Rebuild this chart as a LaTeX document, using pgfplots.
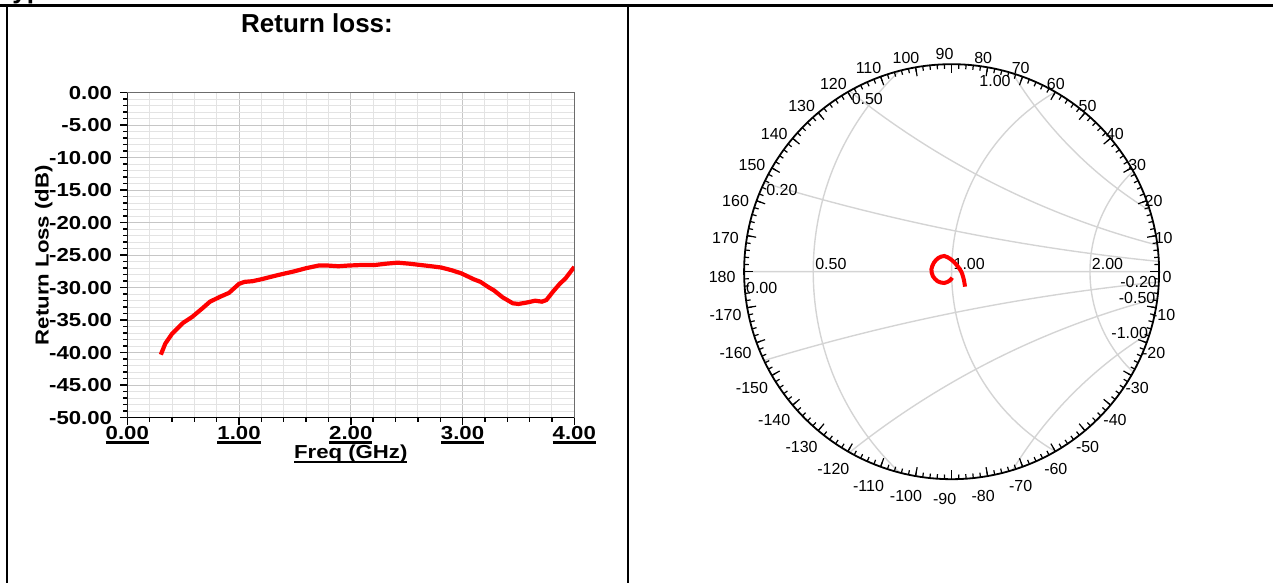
\documentclass[border=0pt]{standalone}
\usepackage{fontspec}
\setmainfont{Liberation Sans}
\newfontfamily\widesans{Liberation Sans}[FakeStretch=1.18]
\usepackage{pgfplots}
\pgfplotsset{compat=1.18}
\usetikzlibrary{calc}

% thick underline as in the original tick labels
\newcommand{\ul}[1]{\leavevmode\setbox0=\hbox{#1}\rlap{\rule[-2.3bp]{\wd0}{1.2bp}}\box0}
\newcommand{\lblfont}{\widesans\bfseries\fontsize{9.4bp}{11bp}\selectfont}
\newcommand{\smfont}{\fontsize{8bp}{9.6bp}\selectfont}

\begin{document}
\begin{tikzpicture}
\useasboundingbox (0,0) rectangle (636.5bp,291.5bp);

% table frame
\draw[line width=1.1bp] (0,288.75bp) -- (636.5bp,288.75bp);
\draw[line width=1.1bp] (3.35bp,0) -- (3.35bp,289.3bp);
\draw[line width=1.1bp] (313.85bp,0) -- (313.85bp,289.3bp);
\node[anchor=base west, inner sep=0, font=\bfseries\fontsize{13bp}{15bp}\selectfont] at (6bp,292.3bp) {yp};

% left panel: return loss
\node[font=\bfseries\fontsize{13bp}{15bp}\selectfont] at (158.5bp,280bp) {Return loss:};

\begin{axis}[
  at={(63.65bp,82.65bp)}, anchor=south west,
  width=223.5bp, height=162.5bp, scale only axis,
  xmin=0, xmax=4, ymin=-50, ymax=0,
  xtick={0,1,2,3,4},
  xticklabels={\ul{0.00},\ul{1.00},\ul{2.00},\ul{3.00},\ul{4.00}},
  ytick={-50,-45,-40,-35,-30,-25,-20,-15,-10,-5,0},
  yticklabels={-50.00,-45.00,-40.00,-35.00,-30.00,-25.00,-20.00,-15.00,-10.00,-5.00,0.00},
  minor x tick num=4, minor y tick num=4,
  grid=both,
  major grid style={gray!45, line width=0.5bp},
  minor grid style={gray!22, line width=0.5bp},
  axis line style={gray!85!black, line width=0.6bp},
  tick align=outside, xtick pos=left, ytick pos=left,
  major tick length=3.6bp, minor tick length=2bp,
  tick style={black, line width=0.7bp},
  tick label style={font=\lblfont},
  xticklabel style={yshift=3bp},
  yticklabel style={xshift=-0.5bp},
  xlabel={\ul{Freq (GHz)}},
  xlabel style={at={(axis description cs:0.5,0)}, anchor=north, inner sep=0pt, yshift=-13.5bp, font=\lblfont},
  ylabel={Return Loss (dB)},
  ylabel style={at={(axis description cs:-0.1870,0.5)}, anchor=center, font=\lblfont},
]
\addplot[red, line width=2.1bp] coordinates {
  (0.30,-40.3) (0.34,-38.6) (0.40,-37.1) (0.50,-35.4) (0.58,-34.5)
  (0.67,-33.2) (0.74,-32.15) (0.83,-31.4) (0.91,-30.8) (1.00,-29.4)
  (1.05,-29.1) (1.12,-29.0) (1.20,-28.7) (1.35,-28.05) (1.49,-27.5)
  (1.60,-27.0) (1.71,-26.6) (1.80,-26.6) (1.89,-26.7) (1.97,-26.6)
  (2.11,-26.5) (2.22,-26.5) (2.32,-26.3) (2.42,-26.15) (2.52,-26.3)
  (2.62,-26.5) (2.72,-26.7) (2.81,-26.9) (2.90,-27.3) (2.99,-27.8)
  (3.10,-28.7) (3.16,-29.1) (3.23,-29.9) (3.28,-30.4) (3.36,-31.5)
  (3.45,-32.4) (3.50,-32.5) (3.57,-32.3) (3.65,-32.0) (3.71,-32.15)
  (3.75,-31.9) (3.81,-30.6) (3.87,-29.4) (3.92,-28.6) (4.00,-26.8)
};
\draw[black, line width=0.8bp] (rel axis cs:0,1) -- (rel axis cs:0,0) -- (rel axis cs:1,0);
\end{axis}

% right panel: Smith chart, outer circle is |Gamma| = 0.5
\begin{scope}[shift={(475.8bp,155.65bp)}, x=207.5bp, y=207.5bp]
  \begin{scope}
    \clip (0,0) circle[radius=0.5];
    \draw[gray!34, line width=0.7bp] (-0.5,0) -- (0.5,0)
      (0.3333,0) circle[radius=0.6667]
      (0.5,0) circle[radius=0.5]
      (0.6667,0) circle[radius=0.3333]
      (1,5) circle[radius=5] (1,-5) circle[radius=5]
      (1,2) circle[radius=2] (1,-2) circle[radius=2]
      (1,1) circle[radius=1] (1,-1) circle[radius=1];
  \end{scope}
  \draw[line width=0.9bp] (0,0) circle[radius=0.5];
  \foreach \a in {0,2,...,358} \draw[line width=0.6bp] (\a:0.5) -- (\a:0.489);
  \foreach \a in {0,10,...,350} \draw[line width=0.6bp] (\a:0.5) -- (\a:0.4783);
  \foreach \a in {-170,-160,...,180}
    \node[font=\smfont, inner sep=0] at ($(-0.0169,-0.012)+(\a:0.536)$) {\a};
  \begin{scope}[every node/.style={font=\smfont, inner sep=0.8bp}]
    \node[anchor=south west] at (-0.3333,0) {0.50};
    \node[anchor=south west] at (0,0) {1.00};
    \node[anchor=south west] at (0.3333,0) {2.00};
    \node[anchor=north west] at (-0.5,-0.02) {0.00};
    \node[anchor=north west] at (154.5:0.5) {0.20};
    \node[anchor=north west] at (119.4:0.5) {0.50};
    \node[anchor=north east] at (72.9:0.5) {1.00};
    \node[anchor=east] at (-2.9:0.5) {-0.20};
    \node[anchor=east] at (-7.4:0.5) {-0.50};
    \node[anchor=east] at (-17.1:0.5) {-1.00};
  \end{scope}
\end{scope}

\begin{axis}[
  at={(475.8bp,155.65bp)}, anchor=origin,
  width=207.5bp, height=207.5bp, scale only axis,
  xmin=-0.5, xmax=0.5, ymin=-0.5, ymax=0.5,
  hide axis, clip=false,
]
\addplot[red, line width=2bp, smooth] coordinates {
  (0.0323,-0.0361) (0.0296,-0.0200) (0.0234,0.0000) (0.0101,0.0186)
  (-0.0029,0.0306) (-0.0178,0.0378) (-0.0320,0.0330) (-0.0427,0.0217)
  (-0.0487,0.0058) (-0.0453,-0.0104) (-0.0337,-0.0231) (-0.0178,-0.0272)
  (-0.0048,-0.0217) (0.0014,-0.0145)
};
\end{axis}
\end{tikzpicture}
\end{document}
